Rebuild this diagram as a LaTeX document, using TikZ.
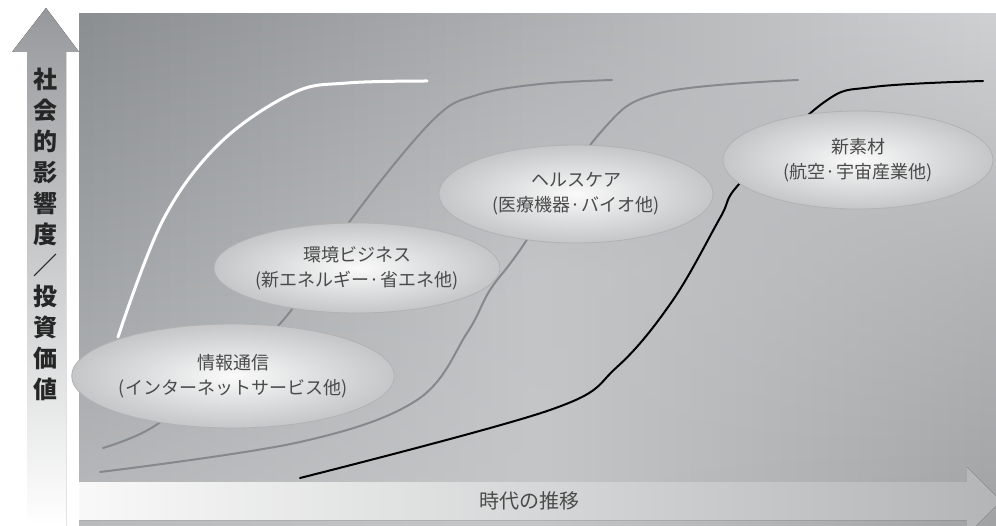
\documentclass[tikz,border=0pt]{standalone}
\usepackage{fontspec}
\setmainfont{Noto Sans CJK JP}
\usetikzlibrary{
arrows.meta,
backgrounds,
calc,
positioning,
shapes
}
\tikzset{>=latex}
% panel colours: top, middle and bottom rows, left/centre/right
\definecolor{pTL}{HTML}{8B8E91}
\definecolor{pTR}{HTML}{CFD0D2}
\definecolor{pML}{HTML}{A0A3A5}
\definecolor{pMC}{HTML}{C2C4C6}
\definecolor{pMR}{HTML}{B2B4B6}
\definecolor{pBL}{HTML}{B8BABC}
\definecolor{pBC}{HTML}{C4C6C8}
\definecolor{pBR}{HTML}{A0A2A4}
\definecolor{bubbleEdge}{HTML}{C4C6C8}
\definecolor{labelGray}{HTML}{4A4A4A}
\definecolor{curveGray}{HTML}{86898C}

\begin{document}
\begin{tikzpicture}[x=1pt, y=-1pt,
	every node/.style={inner sep=0pt},
	bubble/.style={ellipse, draw=gray!60, line width=0.8pt, inner color=white!96!gray, outer color=bubbleEdge, align=center, text=labelGray, font=\fontsize{18}{25}\selectfont},
	scurve/.style={line width=2pt, line cap=round}]
	\useasboundingbox (0,0) rectangle (996,526);
	% background panel, in strips
	\foreach \i in {0,...,59}{
		\pgfmathsetmacro\xa{79+\i*15.2833}
		\pgfmathsetmacro\xb{\xa+15.9}
		\pgfmathsetmacro\pt{(\i+0.5)*5/3}
		\pgfmathsetmacro\pm{(\i+0.5)*10/3}
		\pgfmathsetmacro\pn{(\i+0.5)*10/3-100}
		\colorlet{topC}{pTR!\pt!pTL}
		\ifnum\i<30
			\colorlet{midC}{pMC!\pm!pML}\colorlet{botC}{pBC!\pm!pBL}
		\else
			\colorlet{midC}{pMR!\pn!pMC}\colorlet{botC}{pBR!\pn!pBC}
		\fi
		\fill[top color=topC, bottom color=botC, middle color=midC] (\xa,14) rectangle (\xb,526);
	}
	\fill[left color=pBL, right color=pBR, middle color=pBC] (79,516) rectangle (996,526);
	% s-curves
	\draw[scurve, curveGray] plot[smooth, tension=0.6] coordinates {(103,448) (153,427) (220,375) (285,318) (353,217) (433,120) (477,95) (540,84) (612,80)};
	\draw[scurve, curveGray] plot[smooth, tension=0.6] coordinates {(100,472) (300,442) (417,400) (467,333) (490,290) (520,250) (600,133) (660,93) (798,80)};
	\draw[scurve, black] plot[smooth, tension=0.6] coordinates {(300,478) (550,410) (617,367) (673,300) (720,218) (740,183) (823,103) (873,87) (983,81)};
	\draw[scurve, white, line width=3pt] plot[smooth, tension=0.6] coordinates {(118,337) (163,220) (220,143) (293,93) (347,83) (427,81)};
	% bubbles
	\node[bubble, minimum width=268pt, minimum height=104pt] (info) at (233,376) {情報通信\\(インターネットサービス他)};
	\node[bubble, minimum width=280pt, minimum height=90pt] (env) at (357,268) {環境ビジネス\\(新エネルギー·省エネ他)};
	\node[bubble, minimum width=274pt, minimum height=98pt] (health) at (576,194) {ヘルスケア\\(医療機器·バイオ他)};
	\node[bubble, minimum width=270pt, minimum height=98pt] (mat) at (858,160) {新素材\\(航空·宇宙産業他)};
	% axes
	\fill[top color=pTL!90!white, bottom color=white] (27,52) -- (12,52) -- (46,8) -- (79,52) -- (66,52) -- (66,526) -- (27,526) -- cycle;
	\fill[left color=white!95!gray, right color=pBR!80!white] (79,482) -- (967,482) -- (967,467) -- (1001,501) -- (967,535) -- (967,520) -- (79,520) -- cycle;
	\node[font=\fontsize{24}{31}\selectfont\bfseries, text=black!85, align=center] (ylab) at (46,234) {社\\会\\的\\影\\響\\度\\／\\投\\資\\価\\値};
	\node[font=\fontsize{20}{24}\selectfont, text=labelGray] (xlab) at (529,501) {時代の推移};
\end{tikzpicture}
\end{document}
